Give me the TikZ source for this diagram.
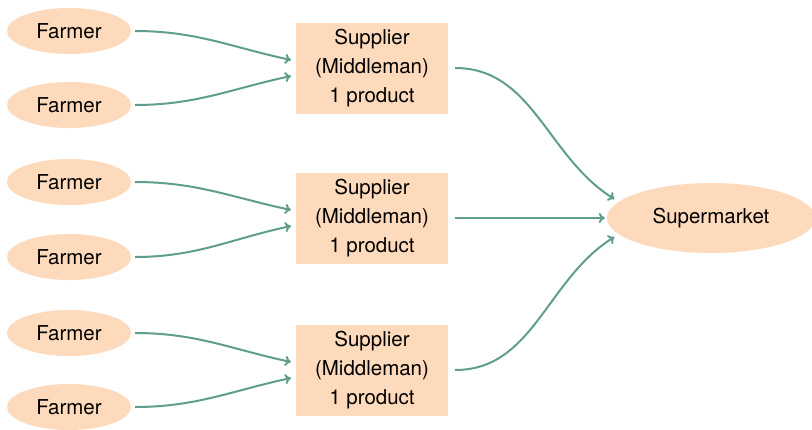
\documentclass[tikz,border=0pt]{standalone}
\usepackage{fontspec}
\setmainfont{TeX Gyre Heros}
\usetikzlibrary{arrows.meta,shapes.geometric}
\definecolor{peach}{HTML}{FDDABB}
\definecolor{teal}{HTML}{5F9D8D}
\tikzset{
  farmer/.style={ellipse, fill=peach, minimum width=124pt, minimum height=46pt, inner sep=0pt},
  market/.style={ellipse, fill=peach, minimum width=208pt, minimum height=70pt, inner sep=0pt},
  supplier/.style={rectangle, fill=peach, minimum width=152pt, minimum height=91pt, inner sep=0pt,
    align=center},
  flow/.style={draw=teal, line width=2pt, -{To[length=6pt,width=10pt]}, shorten <=4pt, shorten >=5pt},
}
\begin{document}
\begin{tikzpicture}[x=1pt, y=-1pt, font=\fontsize{20.5}{29}\selectfont]
\useasboundingbox (0,0) rectangle (812,429);

% farmers
\node[farmer] (f1) at (69,31)  {Farmer};
\node[farmer] (f2) at (69,105) {Farmer};
\node[farmer] (f3) at (69,182) {Farmer};
\node[farmer] (f4) at (69,257) {Farmer};
\node[farmer] (f5) at (69,333) {Farmer};
\node[farmer] (f6) at (69,407) {Farmer};

% suppliers
\node[supplier] (s1) at (372,68)  {Supplier\\(Middleman)\\1 product};
\node[supplier] (s2) at (372,218) {Supplier\\(Middleman)\\1 product};
\node[supplier] (s3) at (372,370) {Supplier\\(Middleman)\\1 product};

% supermarket
\node[market] (sm) at (711,218) {Supermarket};

% farmers to suppliers
\draw[flow] (f1.east) to[out=0,in=168] ([yshift=7pt]s1.west);
\draw[flow] (f2.east) to[out=0,in=192] ([yshift=-7pt]s1.west);
\draw[flow] (f3.east) to[out=0,in=168] ([yshift=7pt]s2.west);
\draw[flow] (f4.east) to[out=0,in=192] ([yshift=-7pt]s2.west);
\draw[flow] (f5.east) to[out=0,in=168] ([yshift=7pt]s3.west);
\draw[flow] (f6.east) to[out=0,in=192] ([yshift=-7pt]s3.west);

% suppliers to supermarket
\draw[flow, shorten <=7pt] (s1.east) to[out=0,in=148] (sm.170);
\draw[flow, shorten <=7pt, shorten >=2pt] (s2.east) -- (sm.west);
\draw[flow, shorten <=7pt] (s3.east) to[out=0,in=212] (sm.190);
\end{tikzpicture}
\end{document}
